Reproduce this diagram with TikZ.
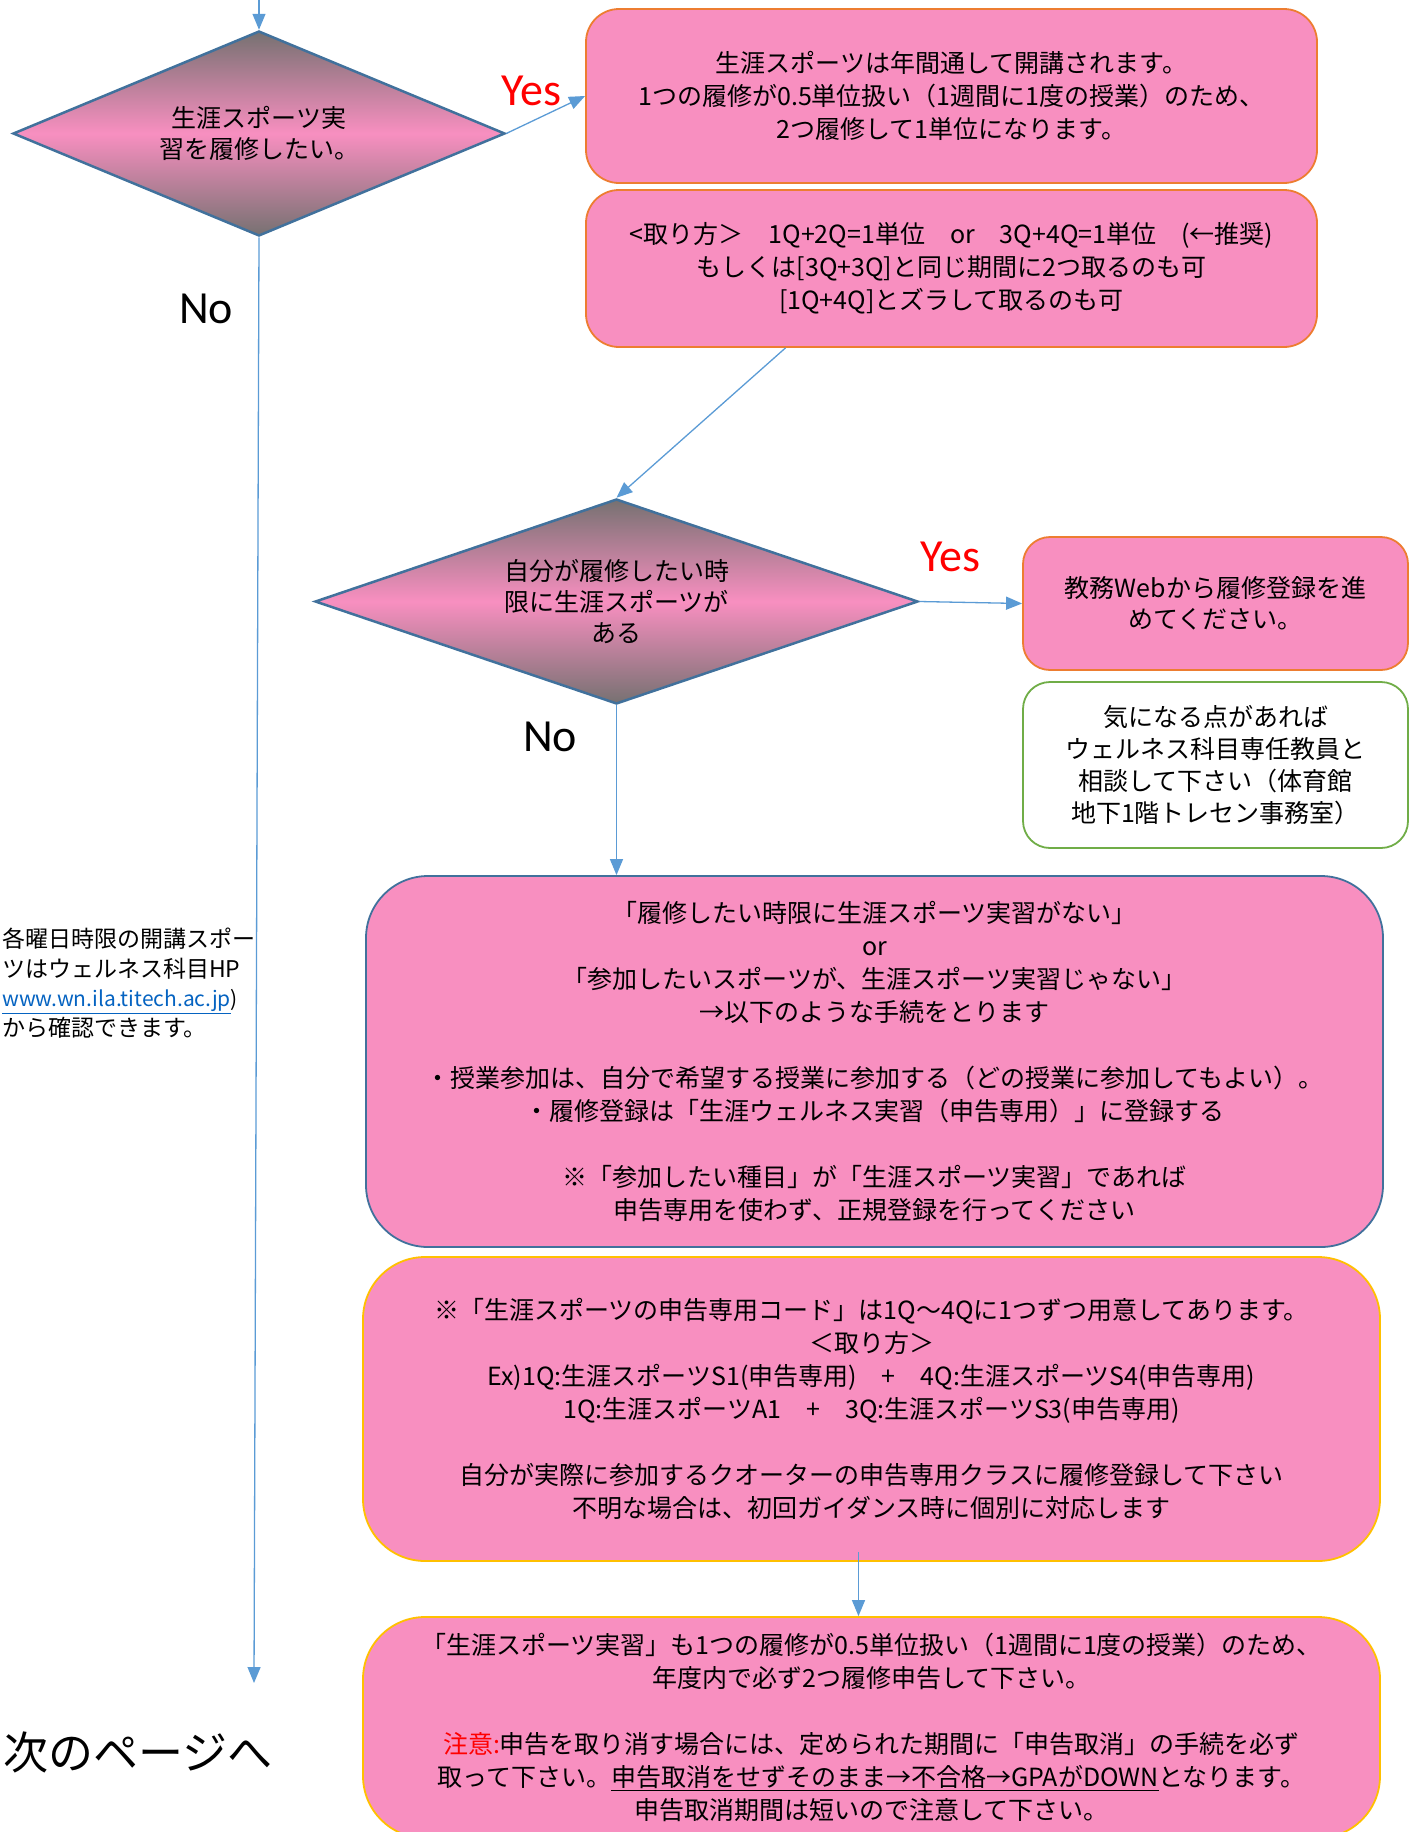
\documentclass[tikz,border=0pt]{standalone}
\usepackage{fontspec}
\setmainfont{Noto Sans CJK JP}
\newfontfamily\yesno{Carlito}
\usetikzlibrary{shapes.geometric}
\usetikzlibrary{arrows.meta,calc}
\usepackage[dvipsnames]{xcolor}
\definecolor{boxpink}{HTML}{F88FC0}
\definecolor{dgray}{HTML}{767171}
\definecolor{lineblue}{HTML}{5B9BD5}
\definecolor{edgeblue}{HTML}{41719C}
\definecolor{edgeorange}{HTML}{ED7D31}
\definecolor{edgegold}{HTML}{FFC000}
\definecolor{edgegreen}{HTML}{70AD47}
\definecolor{linkblue}{HTML}{0563C1}

\begin{document}
\begin{tikzpicture}[x=1pt,y=-1pt,
                every node/.style = {inner sep=0pt, font=\fontsize{25}{33}\selectfont},
                box/.style = {draw=edgeorange, line width=1.8pt, fill=boxpink, rounded corners=33pt, align=center},
                bigbox/.style = {box, rounded corners=62pt, minimum width=1017pt},
                choice/.style = {diamond, draw=edgeblue, line width=2.5pt, top color=dgray, bottom color=dgray,
                                 middle color=boxpink, align=center, aspect=2.8, font=\fontsize{25}{31}\selectfont},
                flow/.style = {draw=lineblue, line width=1.3pt, -{Triangle[length=16pt,width=13pt]}},
                answer/.style = {font=\yesno\fontsize{46}{46}\selectfont}]
\useasboundingbox (0,0) rectangle (1409,1832);
\node[choice, minimum width=492pt, minimum height=205pt] (d1) at (259,133.5) {生涯スポーツ実\\習を履修したい。};
\node[box, minimum width=731pt, minimum height=174pt] (b1) at (951.5,96)
    {生涯スポーツは年間通して開講されます。\\1つの履修が0.5単位扱い（1週間に1度の授業）のため、\\2つ履修して1単位になります。};
\node[box, minimum width=731pt, minimum height=157pt] (b2) at (951.5,268.5)
    {<取り方＞　1Q+2Q=1単位　or　3Q+4Q=1単位　(←推奨)\\もしくは[3Q+3Q]と同じ期間に2つ取るのも可\\{}[1Q+4Q]とズラして取るのも可};
\node[choice, minimum width=603pt, minimum height=205pt] (d2) at (616.5,601.5) {自分が履修したい時\\限に生涯スポーツが\\ある};
\node[box, rounded corners=27pt, minimum width=385pt, minimum height=133pt, font=\fontsize{25}{31}\selectfont] (b3) at (1215.5,603.5)
    {教務Webから履修登録を進\\めてください。};
\node[box, draw=edgegreen, fill=white, rounded corners=27pt, minimum width=385pt, minimum height=166pt,
      font=\fontsize{25}{32}\selectfont] (b4) at (1215.5,765)
    {気になる点があれば\\ウェルネス科目専任教員と\\相談して下さい（体育館\\地下1階トレセン事務室）};
\node[bigbox, draw=edgeblue, minimum height=371pt] (b5) at (874.5,1061.5)
    {「履修したい時限に生涯スポーツ実習がない」\\or\\「参加したいスポーツが、生涯スポーツ実習じゃない」\\→以下のような手続をとります\\[33pt]
     ・授業参加は、自分で希望する授業に参加する（どの授業に参加してもよい）。\\・履修登録は「生涯ウェルネス実習（申告専用）」に登録する\\[33pt]
     ※「参加したい種目」が「生涯スポーツ実習」であれば\\申告専用を使わず、正規登録を行ってください};
\node[bigbox, draw=edgegold, minimum height=304pt] (b6) at (871.5,1409)
    {※「生涯スポーツの申告専用コード」は1Q～4Qに1つずつ用意してあります。\\＜取り方＞\\
     Ex)1Q:生涯スポーツS1(申告専用)\quad+\quad 4Q:生涯スポーツS4(申告専用)\\1Q:生涯スポーツA1\quad+\quad 3Q:生涯スポーツS3(申告専用)\\[33pt]
     自分が実際に参加するクオーターの申告専用クラスに履修登録して下さい\\不明な場合は、初回ガイダンス時に個別に対応します};
\node[bigbox, draw=edgegold, minimum height=221pt] (b7) at (871.5,1727.5)
    {「生涯スポーツ実習」も1つの履修が0.5単位扱い（1週間に1度の授業）のため、\\年度内で必ず2つ履修申告して下さい。\\[33pt]
     \textcolor{red}{注意:}申告を取り消す場合には、定められた期間に「申告取消」の手続を必ず\\
     取って下さい。\underline{申告取消をせずそのまま→不合格→GPAがDOWN}となります。\\申告取消期間は短いので注意して下さい。};
\node[answer, text=red] (y1) at (531,91) {Yes};
\node[answer] (n1) at (206,309) {No};
\node[answer, text=red] (y2) at (950,557) {Yes};
\node[answer] (n2) at (550,737) {No};
\node[anchor=west, font=\fontsize{45}{45}\selectfont] (nx) at (3,1752) {次のページへ};
\node[anchor=west, align=left, font=\fontsize{23}{29.5}\selectfont] (hp) at (2,983)
    {各曜日時限の開講スポー\\ツはウェルネス科目HP\\{\fontsize{21}{29.5}\selectfont\textcolor{linkblue}{\underline{www.wn.ila.titech.ac.jp}})}\\から確認できます。};
\coordinate (start) at (259,0);
\coordinate (down) at (254,1683);
\draw[flow] (start) -- (d1.north);
\draw[flow] (d1.east) -- (b1.west);
\draw[flow] ([xshift=-166pt]b2.south) -- (d2.north);
\draw[flow] (d2.east) -- (b3.west);
\draw[flow] (d2.south) -- (d2.south |- b5.north);
\draw[flow] ([xshift=-13pt,yshift=10pt]b6.south) -- ([xshift=-13pt]b7.north);
\draw[flow] (d1.south) -- (down);
\end{tikzpicture}
\end{document}
